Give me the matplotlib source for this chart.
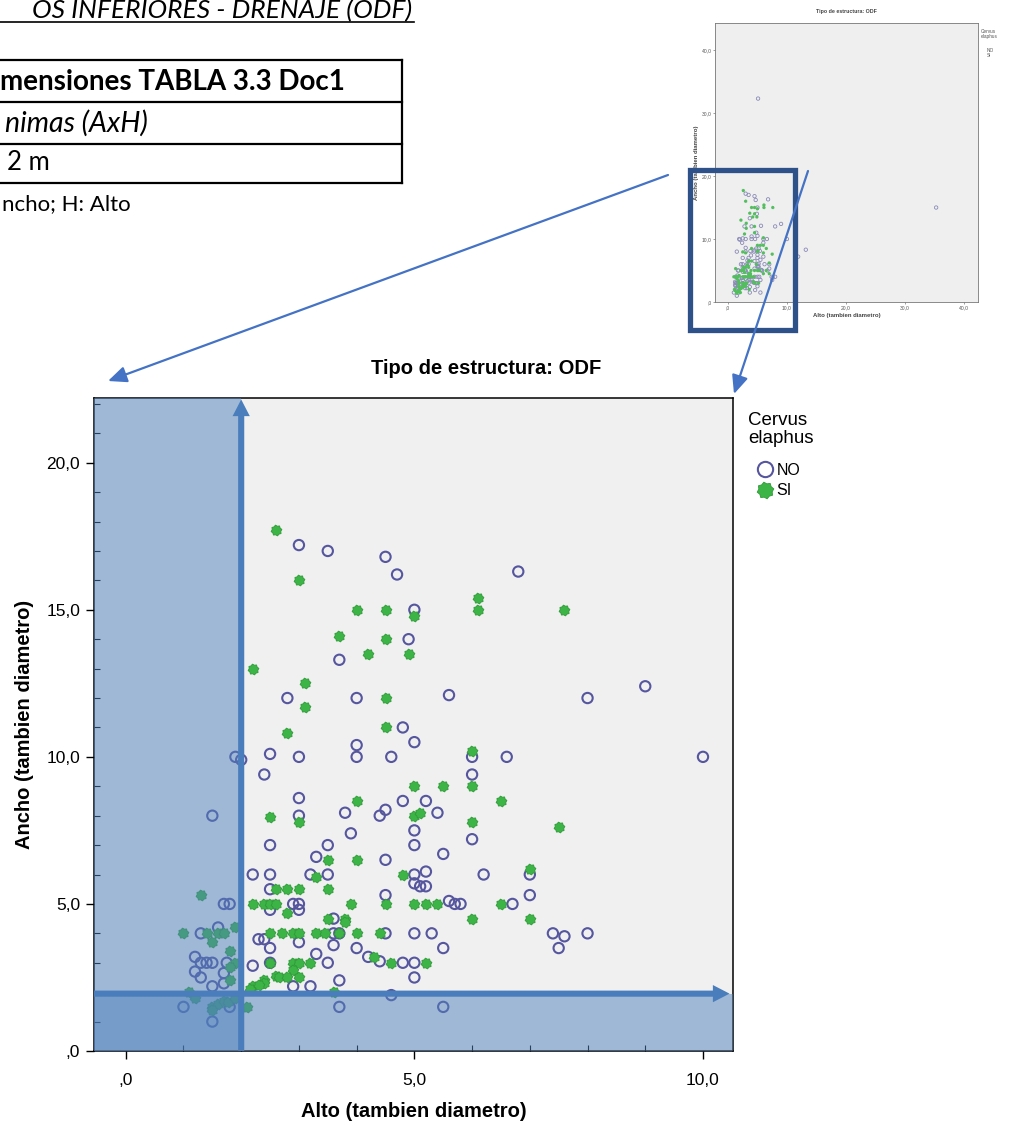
import numpy as np
import matplotlib.pyplot as plt
from matplotlib.path import Path
from matplotlib.patches import Rectangle, FancyArrowPatch
from matplotlib.lines import Line2D
from matplotlib.ticker import MultipleLocator

plt.rcParams['font.family'] = ['Liberation Sans', 'DejaVu Sans']

# --- data (Alto = x, Ancho = y) ---
no_alto = [3.0, 3.5, 4.5, 4.7, 6.8, 5.0, 4.9, 3.7,
           2.8, 4.0, 5.6, 8.0, 9.0, 4.8, 5.0, 4.0,
           4.0, 4.6, 2.5, 3.0, 1.9, 2.0, 2.4, 6.0, 6.6, 10.0,
           6.0, 3.0, 4.8, 5.2, 4.5, 4.4, 5.4, 3.8, 3.0, 1.5,
           5.0, 3.9, 6.0, 2.5, 3.5, 5.0, 5.5, 4.5, 3.3,
           2.2, 2.5, 3.2, 3.5, 5.0, 5.2, 6.2, 7.0,
           5.0, 5.1, 5.2, 4.5, 7.0, 2.5,
           1.7, 1.8, 2.9, 3.0, 5.6, 5.7, 5.8, 6.7,
           2.5, 3.0, 3.6,
           1.3, 1.6, 2.4, 2.3, 3.0, 3.6, 3.7, 4.5, 5.0, 5.3, 7.4, 7.6, 8.0, 7.5,
           3.6, 4.0, 4.2, 4.4, 4.8, 5.0, 5.5, 2.5, 3.3, 3.5,
           1.2, 1.3, 1.4, 1.5, 1.75, 2.2, 2.5,
           1.2, 1.3, 1.7, 5.0, 3.7, 2.9, 3.2, 1.5, 1.7,
           4.6, 1.0, 1.8, 1.5, 3.7, 5.5,
           5.1, 35.3, 13.2, 11.9]
no_ancho = [17.2, 17.0, 16.8, 16.2, 16.3, 15.0, 14.0, 13.3,
            12.0, 12.0, 12.1, 12.0, 12.4, 11.0, 10.5, 10.4,
            10.0, 10.0, 10.1, 10.0, 10.0, 9.9, 9.4, 10.0, 10.0, 10.0,
            9.4, 8.6, 8.5, 8.5, 8.2, 8.0, 8.1, 8.1, 8.0, 8.0,
            7.5, 7.4, 7.2, 7.0, 7.0, 7.0, 6.7, 6.5, 6.6,
            6.0, 6.0, 6.0, 6.0, 6.0, 6.1, 6.0, 6.0,
            5.7, 5.6, 5.6, 5.3, 5.3, 5.5,
            5.0, 5.0, 5.0, 5.0, 5.1, 5.0, 5.0, 5.0,
            4.8, 4.8, 4.5,
            4.0, 4.2, 3.8, 3.8, 3.7, 4.0, 4.0, 4.0, 4.0, 4.0, 4.0, 3.9, 4.0, 3.5,
            3.6, 3.5, 3.2, 3.05, 3.0, 3.0, 3.5, 3.5, 3.3, 3.0,
            3.2, 3.0, 3.0, 3.0, 3.0, 2.9, 3.0,
            2.7, 2.5, 2.65, 2.5, 2.4, 2.2, 2.2, 2.2, 2.3,
            1.9, 1.5, 1.5, 1.0, 1.5, 1.5,
            32.3, 15.0, 8.3, 7.2]

si_alto = [2.6, 3.0, 6.1, 6.1, 7.6, 4.0, 4.5, 5.0, 3.7, 4.5, 4.2, 4.9, 2.2, 3.1, 4.5, 3.1, 2.8, 4.5,
           6.0, 5.0, 5.5, 6.0, 4.0, 6.5, 5.0, 5.1, 3.0, 2.5, 6.0, 7.5,
           4.0, 3.5, 4.8, 7.0, 3.3, 3.5, 2.6, 2.8, 3.0, 1.3,
           2.2, 2.4, 2.5, 2.6, 3.9, 4.5, 5.0, 5.2, 5.4, 6.5,
           2.8, 3.5, 3.8, 6.0, 7.0, 3.8,
           1.0, 1.4, 1.6, 1.7, 1.9, 2.5, 2.7, 2.9, 3.0, 3.3, 3.45, 3.7, 4.0, 4.4,
           1.5, 1.8, 4.3, 4.6, 5.2, 1.9, 1.8, 2.5, 2.9, 3.0, 2.9, 3.2,
           1.8, 2.6, 2.4, 2.65, 2.4, 2.2, 2.15, 2.3, 2.8, 3.0, 3.6,
           1.1, 1.2, 1.5, 1.6, 1.7, 1.77, 1.9, 2.1, 1.5]
si_ancho = [17.7, 16.0, 15.4, 15.0, 15.0, 15.0, 15.0, 14.8, 14.1, 14.0, 13.5, 13.5, 13.0, 12.5, 12.0, 11.7, 10.8, 11.0,
            10.2, 9.0, 9.0, 9.0, 8.5, 8.5, 8.0, 8.1, 7.8, 7.95, 7.8, 7.6,
            6.5, 6.5, 6.0, 6.2, 5.9, 5.5, 5.5, 5.5, 5.5, 5.3,
            5.0, 5.0, 5.0, 5.0, 5.0, 5.0, 5.0, 5.0, 5.0, 5.0,
            4.7, 4.5, 4.5, 4.5, 4.5, 4.4,
            4.0, 4.0, 4.0, 4.0, 4.2, 4.0, 4.0, 4.0, 4.0, 4.0, 4.0, 4.0, 4.0, 4.0,
            3.7, 3.4, 3.2, 3.0, 3.0, 3.0, 2.85, 3.0, 3.0, 3.0, 2.75, 3.0,
            2.4, 2.55, 2.4, 2.5, 2.3, 2.2, 2.1, 2.25, 2.5, 2.5, 2.0,
            2.0, 1.8, 1.5, 1.6, 1.7, 1.67, 1.8, 1.5, 1.4]

min_alto = 2.0
min_ancho = 1.95

xticks = [0, 5, 10]
xtick_labels = [',0', '5,0', '10,0']
yticks = [0, 5, 10, 15, 20]
ytick_labels = [',0', '5,0', '10,0', '15,0', '20,0']
inset_ticks = [0, 10, 20, 30, 40]
inset_labels = [',0', '10,0', '20,0', '30,0', '40,0']

W, H = 1010, 1124
NO_C = '#56569f'
SI_C = '#3cb446'
BLUE = '#4a7dbb'


def fx(px):
    return px / W


def fy(py):
    return 1 - py / H


# gear-like marker used by SPSS for the second group
ang = np.linspace(0, 2 * np.pi, 17)[:-1] + np.pi / 16
rad = np.where(np.arange(16) % 2 == 0, 1.0, 0.8)
gear = Path(np.column_stack([rad * np.cos(ang), rad * np.sin(ang)]).tolist() + [[0, 0]],
            [Path.MOVETO] + [Path.LINETO] * 15 + [Path.CLOSEPOLY])

fig = plt.figure(figsize=(W / 100, H / 100), dpi=100)

# ---------------- main chart ----------------
ax = fig.add_axes([fx(94), fy(1051), fx(733) - fx(94), fy(398) - fy(1051)])
ax.set_facecolor('#f0f0f0')
ax.scatter(no_alto, no_ancho, s=55, marker='o', facecolors='none', edgecolors=NO_C, linewidths=1.5, zorder=2)
ax.scatter(si_alto, si_ancho, s=60, marker=gear, facecolors=SI_C, edgecolors='#2f9a37', linewidths=0.6, zorder=2)
ax.set_xlim(-0.55, 10.52)
ax.set_ylim(0, 22.2)
ax.set_xticks(xticks, xtick_labels)
ax.set_yticks(yticks, ytick_labels)
ax.xaxis.set_minor_locator(MultipleLocator(1))
ax.yaxis.set_minor_locator(MultipleLocator(1))
ax.tick_params(which='major', direction='out', length=6, width=1, labelsize=12.5, pad=4)
ax.tick_params(axis='x', which='major', pad=10)
ax.tick_params(which='minor', direction='in', length=4, width=0.8)
for s in ax.spines.values():
    s.set_linewidth(1.1)
ax.set_xlabel('Alto (tambien diametro)', fontsize=14.5, fontweight='bold', labelpad=10)
ax.set_ylabel('Ancho (tambien diametro)', fontsize=14.5, fontweight='bold', labelpad=9)

# shaded "minimum size" zones and arrows
ax.axvspan(-0.55, min_alto, color='#4f81bd', alpha=0.5, lw=0, zorder=3)
ax.axhspan(0, min_ancho, color='#4f81bd', alpha=0.5, lw=0, zorder=3)
arrow_style = 'simple,head_length=0.6,head_width=0.62,tail_width=0.22'
ax.annotate('', xy=(min_alto, 22.15), xytext=(min_alto, 0),
            arrowprops=dict(arrowstyle=arrow_style, mutation_scale=20, fc=BLUE, ec='none',
                            shrinkA=0, shrinkB=0), zorder=4, annotation_clip=False)
ax.annotate('', xy=(10.46, min_ancho), xytext=(-0.55, min_ancho),
            arrowprops=dict(arrowstyle=arrow_style, mutation_scale=20, fc=BLUE, ec='none',
                            shrinkA=0, shrinkB=0), zorder=4, annotation_clip=False)

# legend: title as text, entries as a legend
fig.text(fx(748), fy(429.5), 'Cervus\nelaphus', fontsize=13.5, ha='left', va='center',
         linespacing=1.05)
handles = [Line2D([], [], ls='', marker='o', mfc='none', mec=NO_C, mew=1.5, ms=11),
           Line2D([], [], ls='', marker=gear, mfc=SI_C, mec='#2f9a37', mew=0.6, ms=12)]
ax.legend(handles, ['NO', 'SI'], loc='upper left',
          bbox_to_anchor=(fx(748), fy(463)), bbox_transform=fig.transFigure,
          frameon=False, fontsize=11.5, handlelength=2.1, handletextpad=-0.3,
          labelspacing=0.32, borderaxespad=0, borderpad=0)

fig.text(fx(486), fy(369), 'Tipo de estructura: ODF', fontsize=14.5, fontweight='bold',
         ha='center', va='center')

# ---------------- small overview inset ----------------
ax_in = fig.add_axes([fx(715), fy(302), fx(978) - fx(715), fy(23) - fy(302)])
ax_in.set_facecolor('#efefef')
ax_in.scatter(no_alto, no_ancho, s=6, marker='o', facecolors='none', edgecolors='#8a8ab8', linewidths=0.6)
ax_in.scatter(si_alto, si_ancho, s=7, marker=gear, facecolors='#52be5e', edgecolors='none')
ax_in.set_xlim(-2.2, 42.4)
ax_in.set_ylim(0, 44.3)
ax_in.set_xticks(inset_ticks, inset_labels)
ax_in.set_yticks(inset_ticks, inset_labels)
ax_in.tick_params(labelsize=3.6, length=1.5, width=0.4, pad=1, colors='#555555')
for s in ax_in.spines.values():
    s.set_linewidth(0.6)
    s.set_color('#777777')
ax_in.set_xlabel('Alto (tambien diametro)', fontsize=4.3, fontweight='bold', labelpad=2, color='#444444')
ax_in.set_ylabel('Ancho (tambien diametro)', fontsize=4.3, fontweight='bold', labelpad=2, color='#444444')
fig.text(fx(846), fy(11), 'Tipo de estructura: ODF', fontsize=3.8, fontweight='bold',
         ha='center', va='center', color='#444444')
fig.text(fx(981), fy(34), 'Cervus\nelaphus', fontsize=3.4, ha='left', va='center',
         color='#555555', linespacing=0.9)
fig.text(fx(987), fy(53), 'NO\nSI', fontsize=3.4, ha='left', va='center',
         color='#555555', linespacing=1.2)

# frame marking the zoomed area + connecting arrows
fig.add_artist(Rectangle((fx(689.5), fy(330)), fx(794.5) - fx(689.5), fy(170) - fy(330),
                         transform=fig.transFigure, fill=False, ec='#2f5189', lw=3.8))
for a, b in [((668, 175), (108, 381)), ((808, 171), (734, 394))]:
    fig.add_artist(FancyArrowPatch(posA=(fx(a[0]), fy(a[1])), posB=(fx(b[0]), fy(b[1])),
                                   transform=fig.transFigure,
                                   arrowstyle='-|>,head_length=0.8,head_width=0.35',
                                   mutation_scale=14, lw=1.6, color='#4472c4',
                                   shrinkA=0, shrinkB=0))

# ---------------- document text, top-left ----------------
doc_font = ['Lato', 'DejaVu Sans']
fig.text(fx(412), fy(18), 'OS INFERIORES - DRENAJE (ODF)', fontsize=19, style='italic',
         family=doc_font, ha='right', va='baseline')
fig.add_artist(Line2D([0, fx(414)], [fy(22), fy(22)], transform=fig.transFigure, color='black', lw=1.2))
for py in [60, 102, 144, 183]:
    fig.add_artist(Line2D([0, fx(402)], [fy(py), fy(py)], transform=fig.transFigure, color='black', lw=1.6))
fig.add_artist(Line2D([fx(402), fx(402)], [fy(60), fy(183)], transform=fig.transFigure, color='black', lw=1.6))
fig.text(fx(345), fy(82), 'mensiones TABLA 3.3 Doc1', fontsize=20, fontweight='bold',
         family=doc_font, ha='right', va='center')
fig.text(fx(148), fy(123), 'nimas (AxH)', fontsize=20.5, style='italic',
         family=doc_font, ha='right', va='center')
fig.text(fx(7), fy(163), '2 m', fontsize=18.5, family=doc_font, ha='left', va='center')
fig.text(fx(131), fy(204), 'ncho; H: Alto', fontsize=16, family=doc_font, ha='right', va='center')

fig.savefig('out.png', dpi=100, facecolor='white')
